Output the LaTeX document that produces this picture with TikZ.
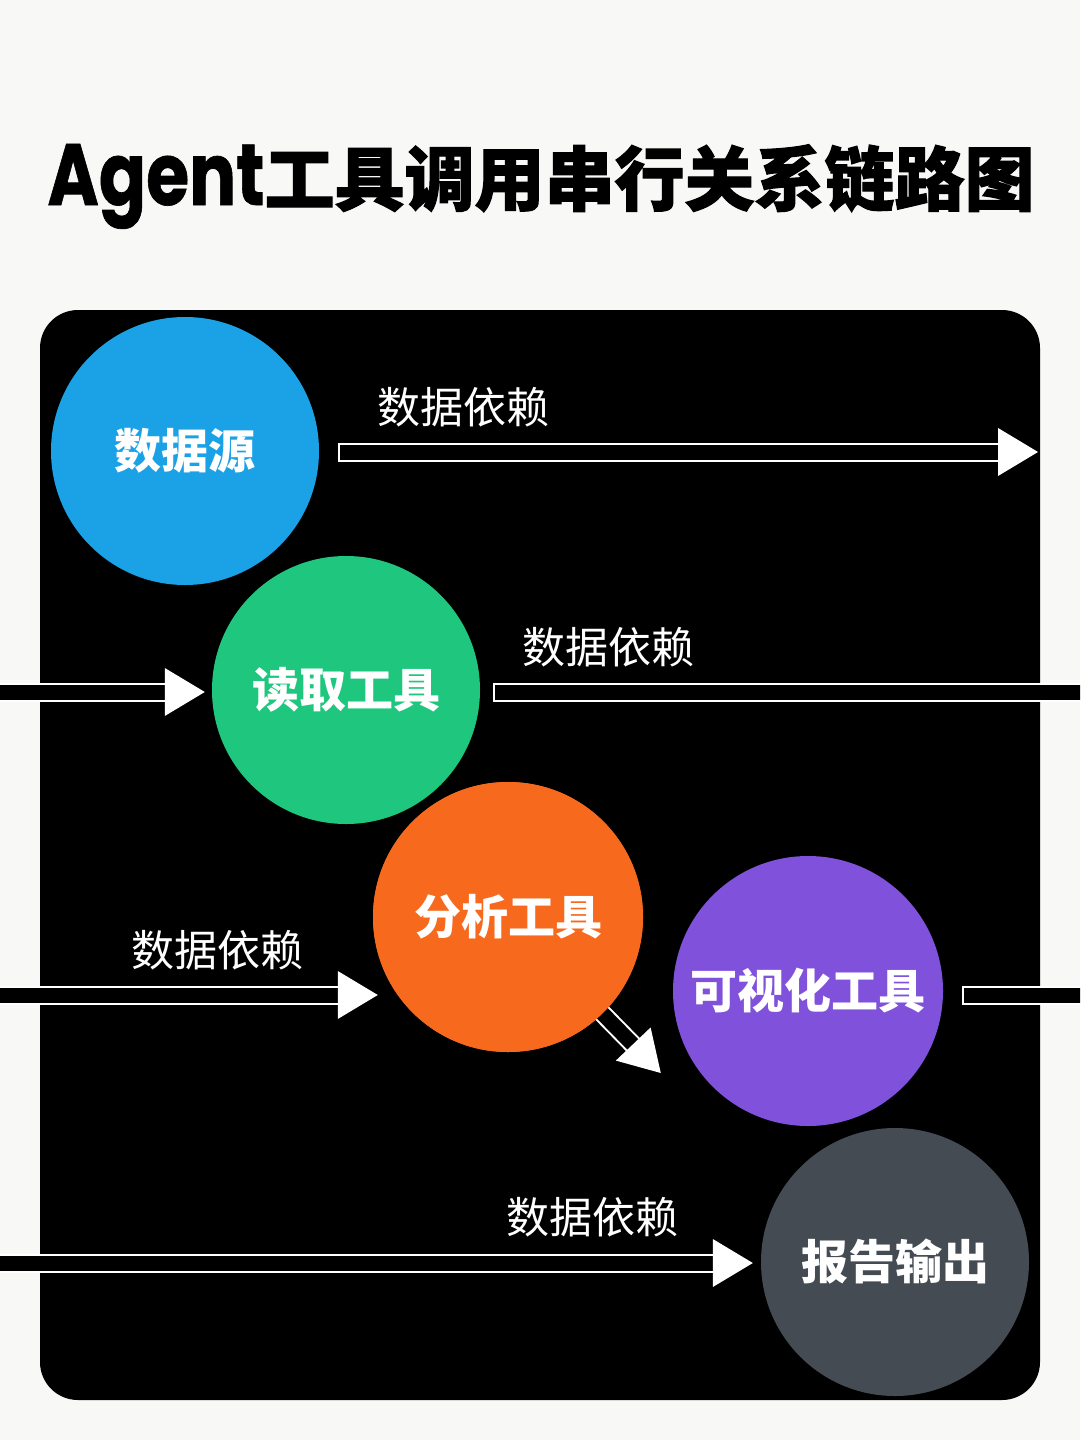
\documentclass[tikz,border=0pt]{standalone}
\usepackage{fontspec}
\usetikzlibrary{calc}
\setmainfont{Noto Sans CJK SC}
\newfontfamily\cjk{Noto Sans CJK SC}
\newfontfamily\cjkheavy{Noto Sans CJK SC}[BoldFeatures={FakeBold=1.6}]
\newfontfamily\pop{Poppins}[BoldFeatures={FakeBold=0.8}]
\definecolor{bgc}{HTML}{F8F8F6}
\definecolor{cblue}{HTML}{1BA1E6}
\definecolor{cgreen}{HTML}{1FC77E}
\definecolor{corange}{HTML}{F76A1E}
\definecolor{cpurple}{HTML}{8052DC}
\definecolor{cgray}{HTML}{454B53}
\tikzset{
  tool/.style={circle, minimum size=268pt, inner sep=0pt, text=white,
    font=\cjk\bfseries\fontsize{47}{50}\selectfont},
  deplabel/.style={text=white, inner sep=0pt, font=\cjk\fontsize{43}{46}\selectfont},
  shaft/.style={draw=white, line width=2pt, double=black, double distance=15pt, line cap=rect},
  diagshaft/.style={draw=white, line width=2pt, double=black, double distance=15pt},
  arrhead/.pic={\fill[white] (0,0) -- (-40,-24) -- (-40,24) -- cycle;}
}
\begin{document}
\begin{tikzpicture}[x=1pt,y=-1pt]
\clip (0,0) rectangle (1080,1440);
\fill[bgc] (0,0) rectangle (1080,1440);

% title
\node[anchor=base, inner sep=0pt] (title) at (541,205)
  {\resizebox{217pt}{61pt}{\pop\bfseries Agent}{\cjkheavy\bfseries\fontsize{70}{72}\selectfont 工具调用串行关系链路图}};

% panel
\fill[black, rounded corners=38pt] (40,310) rectangle (1040,1400);

\path
  (185,451) coordinate (csrc)
  (346,690) coordinate (crd)
  (508,917) coordinate (cana)
  (808,991) coordinate (cvis)
  (895,1262) coordinate (crep);

\node[tool, fill=cblue] (src) at (csrc) {数据源};
\node[tool, fill=cgreen] (rd) at (crd) {读取工具};

% free ends
\coordinate (e1) at (1038,452);
\coordinate (w2) at (-20,692);
\coordinate (e3) at (1100,692);
\coordinate (w4) at (-20,995);
\coordinate (e6) at (1100,995);
\coordinate (w7) at (-20,1263);

% arrow 1: 数据源 -> right
\draw[shaft] ($(src.east |- e1)+(28,0)$) -- ($(e1)+(-35,0)$);
\pic at (e1) {arrhead};
% arrow 2: left -> 读取工具
\coordinate (t2) at ($(rd.west |- w2)+(-7,0)$);
\draw[shaft] (w2) -- ($(t2)+(-35,0)$);
\pic at (t2) {arrhead};
% arrow 3: 读取工具 -> right
\draw[shaft] ($(rd.east |- e3)+(22,0)$) -- (e3);

\node[tool, fill=corange, minimum size=270pt] (ana) at (cana) {分析工具};
\node[tool, fill=cpurple, minimum size=270pt] (vis) at (cvis) {可视化工具};

% arrow 4: left -> 分析工具
\coordinate (t4) at ($(ana.west)+(5,78)$);
\draw[shaft] (w4) -- ($(t4)+(-35,0)$);
\pic at (t4) {arrhead};
% arrow 5 tip
\coordinate (t5) at ($(vis.west)+(-12,82)$);
% arrow 6: 可视化工具 -> right
\draw[shaft] ($(vis.east |- e6)+(28,0)$) -- (e6);

\node[tool, fill=cgray] (rep) at (crep) {报告输出};
% arrow 7: left -> 报告输出
\coordinate (t7) at ($(rep.west |- w7)+(-8,0)$);
\draw[shaft] (w7) -- ($(t7)+(-35,0)$);
\pic at (t7) {arrhead};

% arrow 5: 分析工具 -> 可视化工具 (orange circle redrawn on top)
\draw[diagshaft] (ana.center) -- ($(t5)!38pt!(ana.center)$);
\pic[rotate=-46.4] at (t5) {arrhead};
\node[tool, fill=corange, minimum size=270pt] at (cana) {分析工具};

% labels
\node[deplabel] (l1) at (463,407) {数据依赖};
\node[deplabel] (l2) at (608,647) {数据依赖};
\node[deplabel] (l3) at (217,950) {数据依赖};
\node[deplabel] (l4) at (592,1217) {数据依赖};
\end{tikzpicture}
\end{document}
